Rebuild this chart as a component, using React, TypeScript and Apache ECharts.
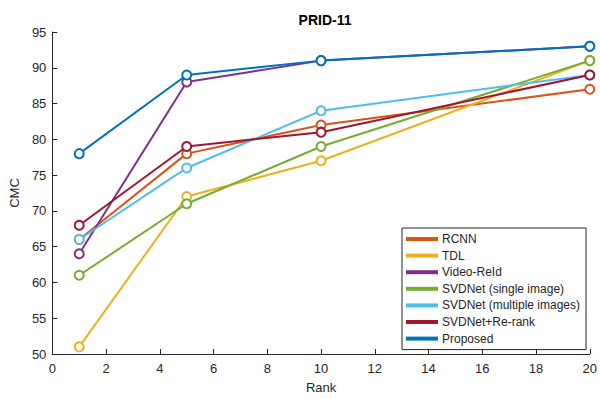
import React, { useEffect, useRef } from "react";
import * as echarts from "echarts";

const ranks = [1, 5, 10, 20];
const seriesNames = [
  "RCNN",
  "TDL",
  "Video-ReId",
  "SVDNet (single image)",
  "SVDNet (multiple images)",
  "SVDNet+Re-rank",
  "Proposed",
];
const rcnn = [66, 78, 82, 87];
const tdl = [51, 72, 77, 91];
const videoReid = [64, 88, 91, 93];
const svdSingle = [61, 71, 79, 91];
const svdMultiple = [66, 76, 84, 89];
const svdRerank = [68, 79, 81, 89];
const proposed = [78, 89, 91, 93];
const seriesValues = [rcnn, tdl, videoReid, svdSingle, svdMultiple, svdRerank, proposed];
const colors = ["#D95319", "#EDB120", "#7E2F8E", "#77AC30", "#4DBEEE", "#A2142F", "#0072BD"];

const FONT = "'Liberation Sans', Arial, Helvetica, sans-serif";
const TXT = "#262626";

export default function App() {
  const ref = useRef<HTMLDivElement>(null);
  useEffect(() => {
    const chart = echarts.init(ref.current!, undefined, { renderer: "svg" });
    chart.setOption({
      animation: false,
      backgroundColor: "#ffffff",
      textStyle: { fontFamily: FONT },
      title: {
        text: "PRID-11",
        left: 320,
        textAlign: "center",
        top: 8,
        textStyle: { fontSize: 14, fontWeight: "bold", color: "#000", fontFamily: FONT },
      },
      grid: { left: 50, right: 7, top: 32, bottom: 43, containLabel: false },
      xAxis: {
        type: "value",
        min: 0,
        max: 20,
        interval: 2,
        name: "Rank",
        nameLocation: "middle",
        nameGap: 27,
        nameTextStyle: { fontSize: 13, color: TXT, fontFamily: FONT },
        axisLine: { show: true, lineStyle: { color: TXT, width: 1 } },
        axisTick: { show: true, inside: true, length: 5, lineStyle: { color: TXT } },
        axisLabel: { fontSize: 13, color: TXT, margin: 8, fontFamily: FONT },
        splitLine: { show: false },
      },
      yAxis: {
        type: "value",
        min: 50,
        max: 95,
        interval: 5,
        name: "CMC",
        nameLocation: "middle",
        nameGap: 28,
        nameRotate: 90,
        nameTextStyle: { fontSize: 13, color: TXT, fontFamily: FONT },
        axisLine: { show: true, lineStyle: { color: TXT, width: 1 } },
        axisTick: { show: true, inside: true, length: 5, lineStyle: { color: TXT } },
        axisLabel: { fontSize: 13, color: TXT, margin: 6, fontFamily: FONT },
        splitLine: { show: false },
      },
      legend: {
        orient: "vertical",
        left: 402,
        top: 228,
        data: seriesNames,
        icon: "rect",
        itemWidth: 30,
        itemHeight: 2,
        itemGap: 2.6,
        padding: [4, 6, 4, 4],
        borderColor: TXT,
        borderWidth: 1,
        backgroundColor: "#ffffff",
        textStyle: { fontSize: 12, color: TXT, lineHeight: 14, fontFamily: FONT },
      },
      series: seriesNames.map((name, i) => ({
        name,
        type: "line",
        data: ranks.map((r, j) => [r, seriesValues[i][j]]),
        color: colors[i],
        lineStyle: { width: 2, color: colors[i] },
        symbol: "emptyCircle",
        symbolSize: 9,
        itemStyle: { color: colors[i], borderColor: colors[i], borderWidth: 1.8 },
        z: 2 + i,
      })),
    });
    return () => chart.dispose();
  }, []);
  return (
    <div
      ref={ref}
      style={{ position: "fixed", left: 0, top: 0, width: 600, height: 399, overflow: "hidden" }}
    />
  );
}
